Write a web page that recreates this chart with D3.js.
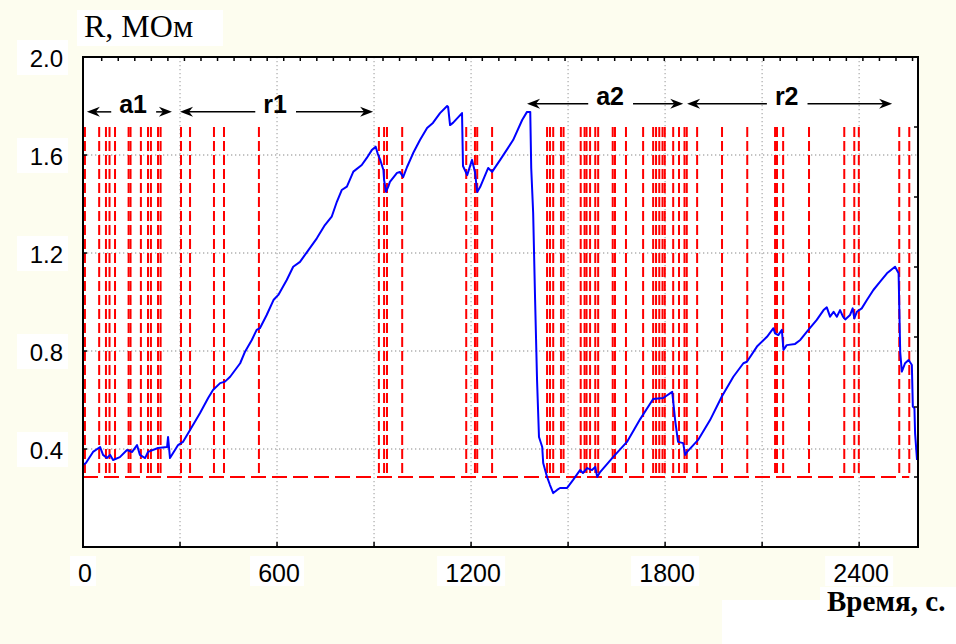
<!doctype html>
<html>
	<head>
		<meta charset="utf-8">
		<script src="https://d3js.org/d3.v7.min.js"></script>
		<style>
			body { margin: 0; background: #fdfdef; }
			svg { display: block; }
		</style>
	</head>
	<body>
		<div id="chart"></div>
		<script>
            // time, s  /  resistance, MOhm (blue trace)
            const timeSec = [0, 9, 31, 53, 62, 74, 84, 93, 114, 136, 152, 167, 176, 192, 201, 232, 260, 263, 269, 294,
                309, 331, 362, 387, 402, 424, 439, 455, 486, 501, 522, 537, 547, 568, 589, 604, 630, 650, 671, 697,
                723, 748, 769, 785, 800, 816, 836, 862, 877, 893, 905, 911, 919, 929, 931, 937, 944, 949, 971, 980,
                990, 1002, 1021, 1042, 1064, 1082, 1104, 1126, 1129, 1135, 1144, 1172, 1175, 1188, 1203, 1212, 1219, 1228, 1253, 1265,
                1290, 1330, 1358, 1373, 1383, 1386, 1392, 1398, 1404, 1410, 1420, 1423, 1435, 1444, 1454, 1466, 1475, 1497, 1515, 1537,
                1546, 1559, 1574, 1584, 1590, 1599, 1639, 1682, 1723, 1763, 1794, 1822, 1831, 1840, 1856, 1862, 1868, 1902, 1939, 1975,
                2011, 2042, 2053, 2084, 2115, 2135, 2140, 2150, 2161, 2166, 2176, 2202, 2218, 2243, 2269, 2290, 2300, 2310, 2321, 2331,
                2341, 2350, 2357, 2372, 2380, 2385, 2393, 2408, 2424, 2444, 2465, 2486, 2511, 2522, 2527, 2532, 2542, 2553, 2563, 2566,
                2571, 2573, 2579];
            const resistance = [0.335, 0.343, 0.388, 0.408, 0.376, 0.363, 0.376, 0.355, 0.367, 0.396, 0.388, 0.416, 0.376, 0.363, 0.388, 0.404, 0.408, 0.449, 0.363, 0.416,
                0.429, 0.478, 0.547, 0.608, 0.641, 0.669, 0.675, 0.695, 0.750, 0.797, 0.845, 0.886, 0.893, 0.947, 1.008, 1.029, 1.090, 1.144, 1.164, 1.212,
                1.260, 1.314, 1.348, 1.409, 1.457, 1.471, 1.532, 1.559, 1.587, 1.620, 1.634, 1.607, 1.580, 1.539, 1.498, 1.450, 1.471, 1.490, 1.527, 1.531,
                1.510, 1.551, 1.608, 1.661, 1.710, 1.731, 1.771, 1.800, 1.796, 1.722, 1.731, 1.771, 1.555, 1.518, 1.580, 1.531, 1.449, 1.469, 1.547, 1.531,
                1.580, 1.661, 1.743, 1.776, 1.776, 1.547, 1.363, 1.008, 0.682, 0.449, 0.408, 0.343, 0.286, 0.253, 0.220, 0.233, 0.241, 0.241, 0.273, 0.314,
                0.302, 0.322, 0.314, 0.327, 0.286, 0.306, 0.367, 0.429, 0.522, 0.604, 0.608, 0.633, 0.518, 0.429, 0.424, 0.376, 0.388, 0.437, 0.518, 0.613,
                0.695, 0.750, 0.756, 0.818, 0.858, 0.893, 0.872, 0.865, 0.886, 0.804, 0.824, 0.829, 0.845, 0.886, 0.927, 0.967, 0.978, 0.940, 0.960, 0.940,
                0.967, 0.940, 0.929, 0.947, 0.974, 0.933, 0.960, 0.974, 1.008, 1.049, 1.083, 1.117, 1.144, 1.117, 0.796, 0.716, 0.750, 0.763, 0.743, 0.573,
                0.566, 0.464, 0.355];

            // moments of the events (red dashed markers), s
            const eventTimes = [6, 50, 71, 82, 99, 141, 147, 179, 201, 210, 232, 240, 303, 331, 405, 436, 544,
                915, 931, 940, 987, 1185, 1212, 1219, 1265,
                1435, 1444, 1454, 1478, 1486, 1539, 1551, 1557, 1568, 1584, 1593, 1638, 1645, 1679,
                1732, 1763, 1772, 1782, 1792, 1799, 1825, 1843, 1860, 1867, 1899, 1976, 2054, 2140, 2146, 2165,
                2245, 2354, 2385, 2399, 2524, 2555];

            const xTicks = [0, 600, 1200, 1800, 2400];
            const xGrid = [300, 600, 900, 1200, 1500, 1800, 2100, 2400];
            const yTicks = [0.4, 0.8, 1.2, 1.6, 2.0];
            const yGrid = [0.4, 0.8, 1.2, 1.6];

            const phaseNames = ["a1", "r1", "a2", "r2"];
            const phaseFrom = [12, 300, 1373, 1868];
            const phaseTo = [275, 897, 1856, 2502];
            const phaseMid = [155, 594, 1630, 2176];
            const phaseLevel = [1.772, 1.772, 1.805, 1.805];

            const width = 956, height = 644;
            const pLeft = 83, pRight = 918, pTop = 57, pBottom = 547;

            const x = d3.scaleLinear().domain([0, 2582]).range([pLeft, pRight]);
            const y = d3.scaleLinear().domain([0, 2]).range([pBottom, pTop]);
            const y2 = d3.scaleLinear().domain([-1, 6]).range([pBottom, pTop]);
            const xTop = d3.scaleLinear().domain([-1.13, 49.33]).range([pLeft, pRight]);

            const svg = d3.select("#chart").append("svg")
                .attr("width", width)
                .attr("height", height);

            svg.append("rect").attr("width", width).attr("height", height).attr("fill", "#fdfdef");
            svg.append("rect")
                .attr("x", pLeft).attr("y", pTop)
                .attr("width", pRight - pLeft).attr("height", pBottom - pTop)
                .attr("fill", "#fff");

            // dotted grid
            svg.selectAll("line.gx")
                .data(xGrid)
                .enter().append("line")
                .attr("class", "gx")
                .attr("x1", x).attr("x2", x)
                .attr("y1", pTop).attr("y2", pBottom)
                .attr("stroke", "#b0b0b0")
                .attr("stroke-width", 1.3)
                .attr("stroke-dasharray", "1.3,2.7");

            svg.selectAll("line.gy")
                .data(yGrid)
                .enter().append("line")
                .attr("class", "gy")
                .attr("x1", pLeft).attr("x2", pRight)
                .attr("y1", y).attr("y2", y)
                .attr("stroke", "#b0b0b0")
                .attr("stroke-width", 1.3)
                .attr("stroke-dasharray", "1.3,2.7");

            // event markers
            svg.append("line")
                .attr("x1", x(0)).attr("x2", x(eventTimes[eventTimes.length - 1]))
                .attr("y1", y2(0)).attr("y2", y2(0))
                .attr("stroke", "#ff0000")
                .attr("stroke-width", 2)
                .attr("stroke-dasharray", "15,6");

            svg.selectAll("line.ev")
                .data(eventTimes)
                .enter().append("line")
                .attr("class", "ev")
                .attr("x1", function (d) { return x(d); })
                .attr("x2", function (d) { return x(d); })
                .attr("y1", y2(5)).attr("y2", y2(0))
                .attr("stroke", "#ff0000")
                .attr("stroke-width", 2)
                .attr("stroke-dasharray", "10,4");

            // resistance trace
            const line = d3.line()
                .x(function (d, i) { return x(timeSec[i]); })
                .y(function (d) { return y(d); });

            svg.append("path")
                .datum(resistance)
                .attr("d", line)
                .attr("fill", "none")
                .attr("stroke", "#0000ff")
                .attr("stroke-width", 2)
                .attr("stroke-linejoin", "round");

            // frame and ticks
            svg.append("rect")
                .attr("x", pLeft).attr("y", pTop)
                .attr("width", pRight - pLeft).attr("height", pBottom - pTop)
                .attr("fill", "none")
                .attr("stroke", "#000")
                .attr("stroke-width", 2);

            svg.selectAll("line.tl")
                .data(yTicks)
                .enter().append("line")
                .attr("x1", pLeft).attr("x2", pLeft + 4)
                .attr("y1", y).attr("y2", y)
                .attr("stroke", "#000").attr("stroke-width", 1.5);

            svg.selectAll("line.tr")
                .data(d3.range(0, 6))
                .enter().append("line")
                .attr("x1", pRight - 4).attr("x2", pRight)
                .attr("y1", y2).attr("y2", y2)
                .attr("stroke", "#000").attr("stroke-width", 1.5);

            svg.selectAll("line.tb")
                .data(xGrid)
                .enter().append("line")
                .attr("x1", x).attr("x2", x)
                .attr("y1", pBottom - 5).attr("y2", pBottom)
                .attr("stroke", "#000").attr("stroke-width", 1.5);

            svg.selectAll("line.tt")
                .data(d3.range(0, 50))
                .enter().append("line")
                .attr("x1", xTop).attr("x2", xTop)
                .attr("y1", pTop).attr("y2", pTop + 4)
                .attr("stroke", "#000").attr("stroke-width", 1.5);

            // tick labels on white boxes
            const yLab = svg.selectAll("g.yl")
                .data(yTicks)
                .enter().append("g");
            yLab.append("rect")
                .attr("x", 17).attr("width", 51)
                .attr("y", function (d) { return y(d) - 17; })
                .attr("height", 35)
                .attr("fill", "#fff");
            yLab.append("text")
                .attr("x", 63)
                .attr("y", function (d) { return y(d) + 10; })
                .attr("text-anchor", "end")
                .attr("font-family", "Liberation Sans, Arial, sans-serif")
                .attr("font-size", 24)
                .text(d3.format(".1f"));

            const xLab = svg.selectAll("g.xl")
                .data(xTicks)
                .enter().append("g");
            xLab.append("rect")
                .attr("x", function (d) { return x(d) - (String(d).length * 14 + 12) / 2; })
                .attr("width", function (d) { return String(d).length * 14 + 12; })
                .attr("y", 556).attr("height", 30)
                .attr("fill", "#fff");
            xLab.append("text")
                .attr("x", function (d) { return x(d) + 2; })
                .attr("y", 582)
                .attr("text-anchor", "middle")
                .attr("font-family", "Liberation Sans, Arial, sans-serif")
                .attr("font-size", 25)
                .text(String);

            // axis titles
            svg.append("rect").attr("x", 77).attr("y", 10).attr("width", 146).attr("height", 36).attr("fill", "#fff");
            svg.append("text")
                .attr("x", 84).attr("y", 37)
                .attr("font-family", "Liberation Serif, Times New Roman, serif")
                .attr("font-size", 32)
                .text("R, МОм");

            svg.append("rect").attr("x", 722).attr("y", 600).attr("width", 234).attr("height", 44).attr("fill", "#fff");
            svg.append("rect").attr("x", 820).attr("y", 587).attr("width", 136).attr("height", 30).attr("fill", "#fff");
            svg.append("text")
                .attr("x", 827).attr("y", 611)
                .attr("font-family", "Liberation Serif, Times New Roman, serif")
                .attr("font-size", 29)
                .attr("font-weight", "bold")
                .text("Время, с.");

            // phase annotations
            function head(tip, yy, dir) {
                return "M" + tip + "," + yy +
                    "L" + (tip + dir * 13) + "," + (yy - 5) +
                    "L" + (tip + dir * 9) + "," + yy +
                    "L" + (tip + dir * 13) + "," + (yy + 5) + "Z";
            }

            phaseNames.forEach(function (name, i) {
                const g = svg.append("g");
                const base = y(phaseLevel[i]);
                const t = g.append("text")
                    .attr("x", x(phaseMid[i]))
                    .attr("y", base)
                    .attr("text-anchor", "middle")
                    .attr("font-family", "Liberation Sans, Arial, sans-serif")
                    .attr("font-size", 25)
                    .attr("font-weight", "bold")
                    .text(name);
                const bb = t.node().getBBox();
                const ay = base - 1;
                const x0 = x(phaseFrom[i]), x1 = x(phaseTo[i]);
                g.append("line")
                    .attr("x1", x0 + 9).attr("x2", bb.x - 8)
                    .attr("y1", ay).attr("y2", ay)
                    .attr("stroke", "#000").attr("stroke-width", 1.5);
                g.append("line")
                    .attr("x1", bb.x + bb.width + 9).attr("x2", x1 - 9)
                    .attr("y1", ay).attr("y2", ay)
                    .attr("stroke", "#000").attr("stroke-width", 1.5);
                g.append("path").attr("d", head(x0, ay, 1)).attr("fill", "#000");
                g.append("path").attr("d", head(x1, ay, -1)).attr("fill", "#000");
            });
		</script>
	</body>
</html>
